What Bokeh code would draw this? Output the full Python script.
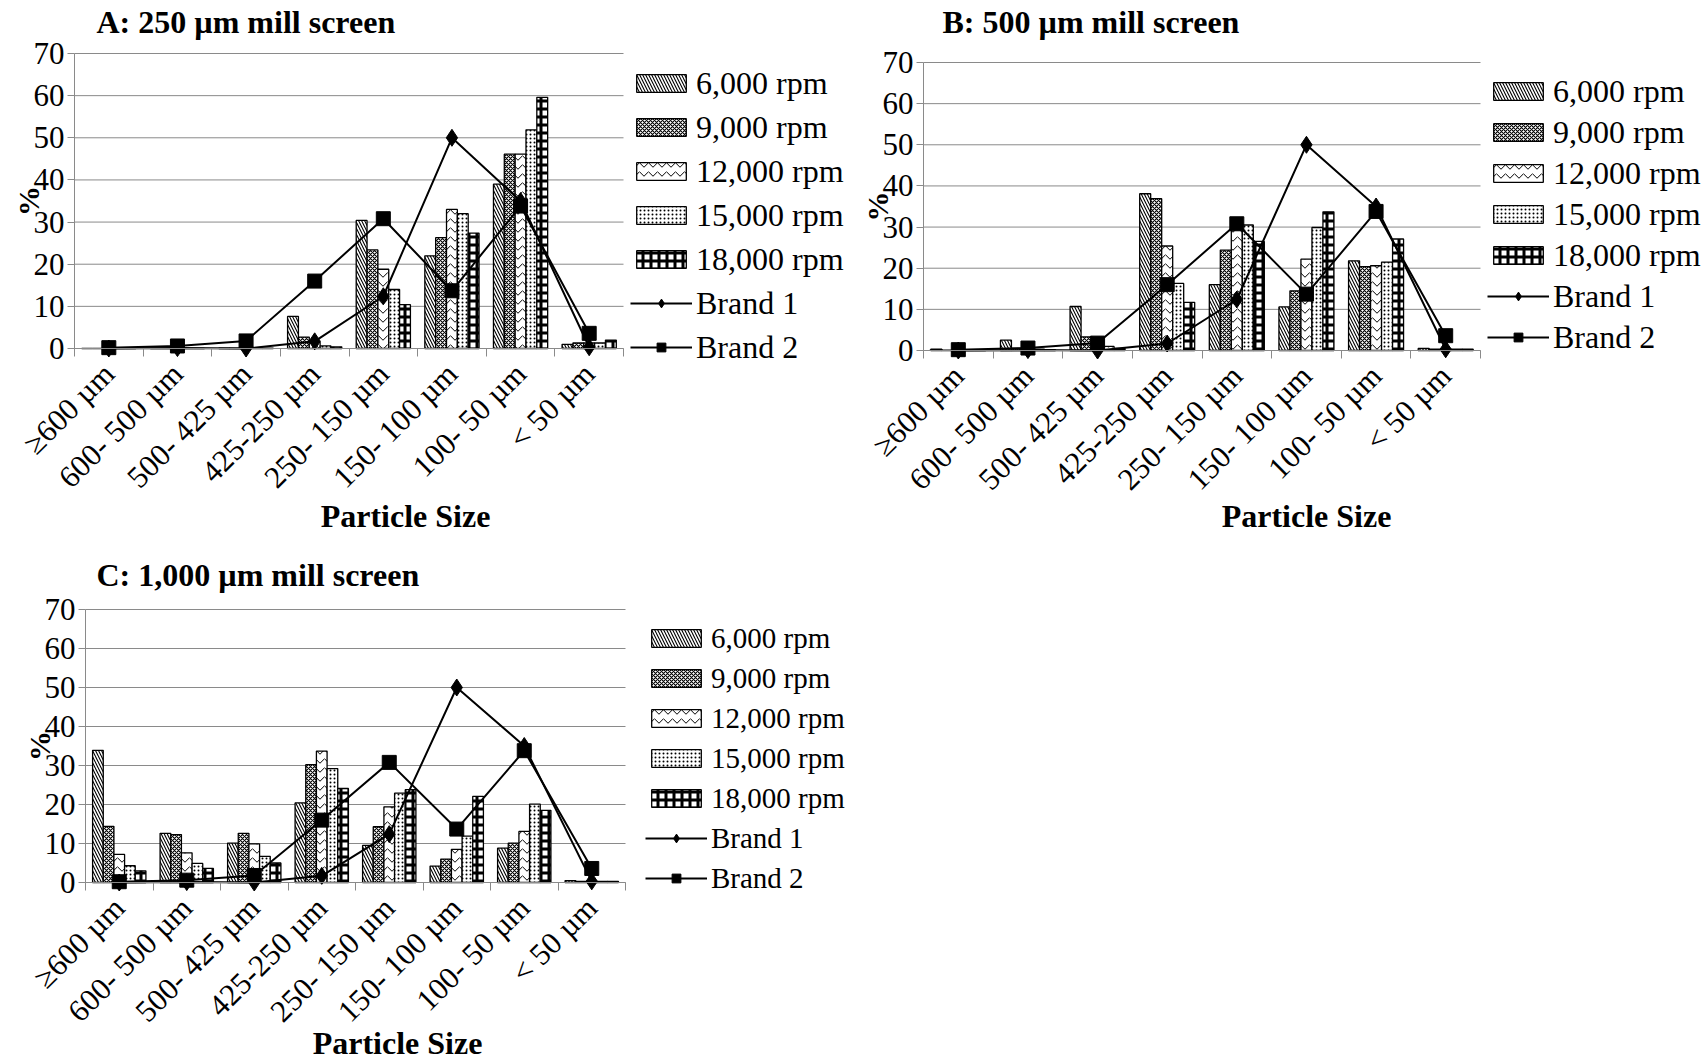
import numpy as np
from math import pi
from bokeh.plotting import figure
from bokeh.models import Range1d, FixedTicker, Legend, LegendItem, Label
from bokeh.layouts import column, row
from bokeh.embed import file_html
from bokeh.resources import INLINE

categories = ["≥600 µm", "600- 500 µm", "500- 425 µm", "425-250 µm",
              "250- 150 µm", "150- 100 µm", "100- 50 µm", "< 50 µm"]
speeds = ["6,000 rpm", "9,000 rpm", "12,000 rpm", "15,000 rpm", "18,000 rpm"]
y_ticks = [0, 10, 20, 30, 40, 50, 60, 70]

# A: 250 um mill screen
a_6000 = [0.0, 0.0, 0.1, 7.6, 30.4, 22.0, 39.0, 1.0]
a_9000 = [0.0, 0.0, 0.1, 2.7, 23.4, 26.3, 46.1, 1.3]
a_12000 = [0.0, 0.0, 0.1, 1.5, 18.8, 33.0, 46.1, 1.3]
a_15000 = [0.0, 0.0, 0.1, 0.6, 14.0, 32.0, 51.9, 1.3]
a_18000 = [0.0, 0.0, 0.1, 0.4, 10.4, 27.4, 59.6, 2.0]
# B: 500 um mill screen
b_6000 = [0.3, 2.5, 10.7, 38.1, 16.0, 10.6, 21.8, 0.5]
b_9000 = [0.1, 0.5, 3.3, 36.9, 24.4, 14.5, 20.4, 0.3]
b_12000 = [0.1, 0.5, 1.2, 25.4, 29.4, 22.2, 20.6, 0.3]
b_15000 = [0.0, 0.3, 1.0, 16.3, 30.5, 29.9, 21.5, 0.3]
b_18000 = [0.0, 0.2, 0.5, 11.7, 26.5, 33.7, 27.1, 0.3]
# C: 1,000 um mill screen
c_6000 = [33.9, 12.6, 10.1, 20.4, 9.5, 4.2, 8.8, 0.5]
c_9000 = [14.4, 12.3, 12.6, 30.2, 14.3, 6.0, 10.1, 0.3]
c_12000 = [7.2, 7.6, 9.9, 33.7, 19.4, 8.5, 13.1, 0.3]
c_15000 = [4.3, 4.9, 6.7, 29.2, 22.9, 11.9, 20.1, 0.3]
c_18000 = [3.0, 3.6, 5.0, 24.1, 23.8, 22.1, 18.5, 0.3]

brand1 = [0.0, 0.1, 0.0, 1.7, 12.4, 50.0, 35.0, 0.3]
brand2 = [0.2, 0.6, 1.8, 16.0, 30.8, 13.7, 33.8, 3.6]

FONT = "Liberation Serif"
GREY = "#8a8a8a"

hatches = [
    dict(hatch_pattern="left_diagonal_line", hatch_scale=6, hatch_weight=1.1),
    dict(hatch_pattern="diagonal_cross", hatch_scale=4, hatch_weight=1.1),
    dict(hatch_pattern="horizontal_wave", hatch_scale=9, hatch_weight=1.0),
    dict(hatch_pattern="dot", hatch_scale=4, hatch_weight=1.2),
    dict(hatch_pattern="cross", hatch_scale=8, hatch_weight=3.0),
]

LABEL_H = 37


def make_panel(title, series, W, H, box, title_pos, ps_pos, leg_left, leg_top,
               leg_spacing, leg_font):
    """box = (left, top, right, bottom) of the plot area in pixels of this panel."""
    bl, bt, br, bb = box
    ncat = len(categories)
    ymax = y_ticks[-1]
    ppx = (br - bl) / ncat
    ppy = (bb - bt) / ymax
    xr = Range1d(-bl / ppx, ncat + (W - br) / ppx)
    yr = Range1d(-(H - bb) / ppy, ymax + bt / ppy)
    p = figure(width=W, height=H, min_border=0, x_range=xr, y_range=yr,
               output_backend="svg", toolbar_location=None, tools="")
    p.outline_line_color = None
    p.xgrid.visible = False
    p.ygrid.visible = False
    p.background_fill_color = "white"

    # horizontal gridlines over the plot area only
    p.segment(x0=[0] * len(y_ticks), x1=[ncat] * len(y_ticks), y0=y_ticks, y1=y_ticks,
              line_color=GREY, line_width=1)

    centers = np.arange(ncat) + 0.5
    bw = 0.158
    items = []
    for k, (name, vals) in enumerate(zip(speeds, series)):
        xs = centers + (k - 2) * bw
        r = p.vbar(x=xs, top=vals, width=bw, bottom=0, fill_color="white",
                   line_color="black", line_width=1.3, hatch_color="black",
                   **hatches[k])
        items.append(LegendItem(label=name, renderers=[r]))

    l1 = p.line(centers, brand1, line_color="black", line_width=2)
    m1 = p.scatter(centers, brand1, marker="diamond", size=17, color="black")
    l2 = p.line(centers, brand2, line_color="black", line_width=2)
    m2 = p.scatter(centers, brand2, marker="square", size=14, color="black")
    items.append(LegendItem(label="Brand 1", renderers=[l1, m1]))
    items.append(LegendItem(label="Brand 2", renderers=[l2, m2]))

    leg_h = 7 * LABEL_H + 6 * leg_spacing
    leg = Legend(items=items, location=(leg_left, H - leg_top - leg_h),
                 margin=0, padding=0,
                 spacing=leg_spacing, glyph_width=62, glyph_height=22,
                 label_height=LABEL_H, label_standoff=4, label_text_font=FONT,
                 label_text_font_size=leg_font, label_text_color="black",
                 label_text_baseline="middle",
                 border_line_color=None, background_fill_alpha=0)
    p.add_layout(leg, "center")

    p.add_layout(Label(x=title_pos[0], y=H - title_pos[1], x_units="screen",
                       y_units="screen", text=title, text_font=FONT,
                       text_font_size="32px", text_font_style="bold",
                       text_color="black", text_align="left",
                       text_baseline="middle"))
    p.add_layout(Label(x=ps_pos[0], y=H - ps_pos[1], x_units="screen",
                       y_units="screen", text="Particle Size", text_font=FONT,
                       text_font_size="32px", text_font_style="bold",
                       text_color="black", text_align="center",
                       text_baseline="middle"))

    ya = p.yaxis[0]
    ya.fixed_location = 0
    ya.bounds = (0, ymax)
    ya.ticker = FixedTicker(ticks=y_ticks)
    ya.axis_line_color = GREY
    ya.major_tick_line_color = GREY
    ya.major_tick_out = 7
    ya.major_tick_in = 0
    ya.minor_tick_line_color = None
    ya.major_label_standoff = 3
    ya.major_label_text_font = FONT
    ya.major_label_text_font_size = "31px"
    ya.major_label_text_color = "black"
    ya.axis_label = "%"
    ya.axis_label_text_font = FONT
    ya.axis_label_text_font_size = "30px"
    ya.axis_label_text_font_style = "bold"
    ya.axis_label_text_color = "black"
    ya.axis_label_standoff = -14

    xa = p.xaxis[0]
    xa.fixed_location = 0
    xa.bounds = (0, ncat)
    xa.ticker = FixedTicker(ticks=list(centers), minor_ticks=list(range(ncat + 1)))
    xa.major_label_overrides = {float(c): cat for c, cat in zip(centers, categories)}
    xa.axis_line_color = GREY
    xa.major_tick_line_color = None
    xa.major_tick_out = 0
    xa.major_tick_in = 0
    xa.minor_tick_line_color = GREY
    xa.minor_tick_out = 8
    xa.minor_tick_in = 0
    xa.major_label_orientation = pi / 4
    xa.major_label_standoff = 12
    xa.major_label_text_font = FONT
    xa.major_label_text_font_size = "31px"
    xa.major_label_text_color = "black"
    return p


pA = make_panel("A: 250 µm mill screen", [a_6000, a_9000, a_12000, a_15000, a_18000],
                850, 540, (74, 53, 623, 348), (96, 21), (405, 515), 630, 64.5, 7, "32px")
pB = make_panel("B: 500 µm mill screen", [b_6000, b_9000, b_12000, b_15000, b_18000],
                856, 540, (73, 62, 630, 350), (92, 21), (456, 515), 637, 72.5, 4, "32px")
pC = make_panel("C: 1,000 µm mill screen", [c_6000, c_9000, c_12000, c_15000, c_18000],
                880, 520, (85, 69, 625, 342), (96, 34), (397, 502), 645, 79.5, 3, "29px")

layout = column(row(pA, pB), pC)
open("out.html", "w").write(file_html(layout, INLINE))
